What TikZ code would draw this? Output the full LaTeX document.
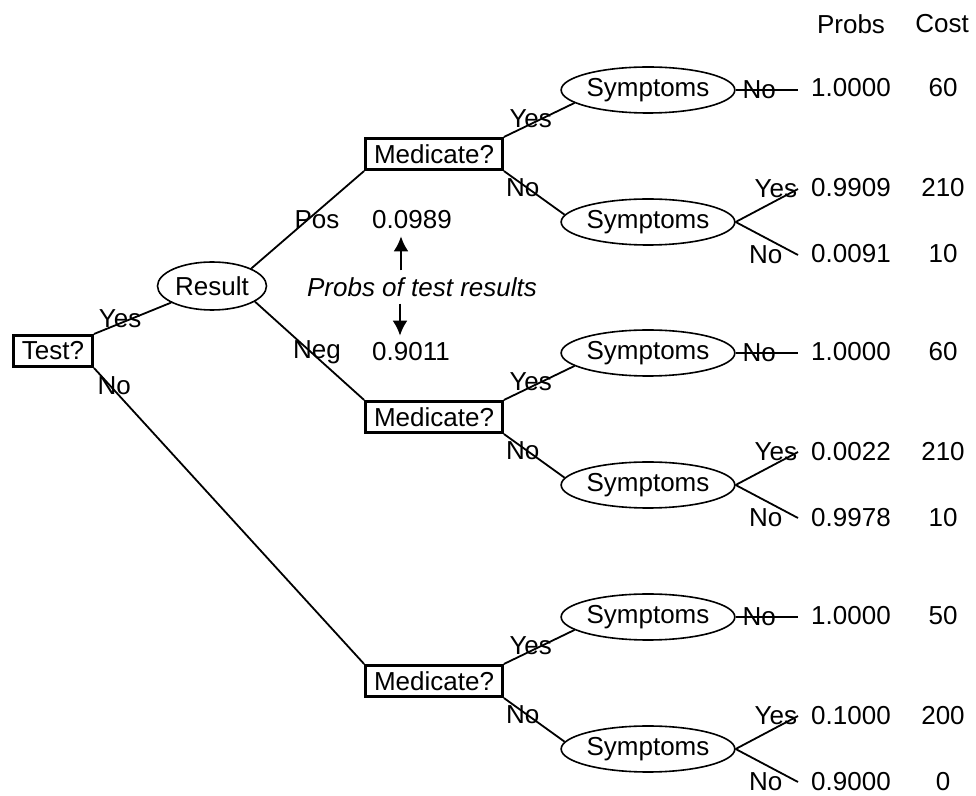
\documentclass[tikz,border=0pt]{standalone}
\usepackage{fontspec}
\setmainfont{Liberation Sans}
\usepackage{tikz}
\usetikzlibrary{shapes,arrows.meta}
\tikzset{>=Latex}

\begin{document}
\begin{tikzpicture}[
x=0.5pt, y=-0.5pt,
font=\fontsize{13}{16}\selectfont,
decisionnode/.style={rectangle, align=center, draw=black, line width=1.5pt, inner xsep=4.2pt, inner ysep=0pt, minimum height=15.5pt},
chancenode/.style={ellipse, draw=black, line width=.8pt, inner sep=0pt, minimum width=85pt, minimum height=23pt},
branch/.style={line width=.9pt},
probarrow/.style={-{Latex[length=7.5pt,width=7.5pt]}, line width=1.3pt},
]
\useasboundingbox (0,0) rectangle (976,796);

%Nodes
\node[decisionnode](Test) at (53,351){Test?};
\node[chancenode, minimum width=54.5pt, minimum height=24pt](Result) at (212,286){Result};

\node[decisionnode](Medicate Pos) at (434,154){Medicate?};
\node[chancenode](Symptoms Pos Yes) at (648,90){Symptoms};
\node[chancenode](Symptoms Pos No) at (648,222){Symptoms};

\node[decisionnode](Medicate Neg) at (434,417){Medicate?};
\node[chancenode](Symptoms Neg Yes) at (648,353){Symptoms};
\node[chancenode](Symptoms Neg No) at (648,485){Symptoms};

\node[decisionnode](Medicate Untested) at (434,681){Medicate?};
\node[chancenode](Symptoms Untested Yes) at (648,617){Symptoms};
\node[chancenode](Symptoms Untested No) at (648,749){Symptoms};

%Leaf ends
\coordinate (End Pos Yes) at (798,90);
\coordinate (End Pos No Yes) at (798,189);
\coordinate (End Pos No No) at (798,255);
\coordinate (End Neg Yes) at (798,353);
\coordinate (End Neg No Yes) at (798,452);
\coordinate (End Neg No No) at (798,518);
\coordinate (End Untested Yes) at (798,617);
\coordinate (End Untested No Yes) at (798,716);
\coordinate (End Untested No No) at (798,782);

%Test results
\node(Pos Label) at (317,220){Pos};
\node(Pos Prob) at (412,220){0.0989};
\node(Neg Label) at (317,352){Neg};
\node(Neg Prob) at (411,352){0.9011};
\node[font=\fontsize{13}{16}\selectfont\itshape](Test Probs) at (422,287){Probs of test results};

%Columns
\node(Probs Head) at (851,24){Probs};
\node(Cost Head) at (942,24){Cost};
\node at (851,88){1.0000};   \node at (943,88){60};
\node at (851,188){0.9909};  \node at (943,188){210};
\node at (851,254){0.0091};  \node at (943,254){10};
\node at (851,352){1.0000};  \node at (943,352){60};
\node at (851,452){0.0022};  \node at (943,452){210};
\node at (851,518){0.9978};  \node at (943,518){10};
\node at (851,616){1.0000};  \node at (943,616){50};
\node at (851,716){0.1000};  \node at (943,716){200};
\node at (851,782){0.9000};  \node at (943,782){0};

%Lines
\draw[branch] (Test.north east) -- node [pos=.34, yshift=2.5pt] {Yes} (Result);
\draw[branch] (Test.south east) -- node [pos=.075, yshift=2.5pt] {No} (Medicate Untested.north west);
\draw[branch] (Result.24) -- (Medicate Pos.south west);
\draw[branch] (Result.-20) -- (Medicate Neg.north west);

\draw[branch] (Medicate Pos.north east) -- node [pos=.38, yshift=2.5pt] {Yes} (Symptoms Pos Yes.190);
\draw[branch] (Medicate Pos.south east) -- node [pos=.31, yshift=-1.5pt] {No} (Symptoms Pos No.175);
\draw[branch] (Symptoms Pos Yes.east) -- node [pos=.38] {No} (End Pos Yes);
\draw[branch] (Symptoms Pos No.east) -- node [pos=1, anchor=east, inner sep=0pt] {Yes} (End Pos No Yes);
\draw[branch] (Symptoms Pos No.east) -- node [pos=1, anchor=east, xshift=-4pt] {No} (End Pos No No);

\draw[branch] (Medicate Neg.north east) -- node [pos=.38, yshift=2.5pt] {Yes} (Symptoms Neg Yes.190);
\draw[branch] (Medicate Neg.south east) -- node [pos=.31, yshift=-1.5pt] {No} (Symptoms Neg No.175);
\draw[branch] (Symptoms Neg Yes.east) -- node [pos=.38] {No} (End Neg Yes);
\draw[branch] (Symptoms Neg No.east) -- node [pos=1, anchor=east, inner sep=0pt] {Yes} (End Neg No Yes);
\draw[branch] (Symptoms Neg No.east) -- node [pos=1, anchor=east, xshift=-4pt] {No} (End Neg No No);

\draw[branch] (Medicate Untested.north east) -- node [pos=.38, yshift=2.5pt] {Yes} (Symptoms Untested Yes.190);
\draw[branch] (Medicate Untested.south east) -- node [pos=.31, yshift=-1.5pt] {No} (Symptoms Untested No.175);
\draw[branch] (Symptoms Untested Yes.east) -- node [pos=.38] {No} (End Untested Yes);
\draw[branch] (Symptoms Untested No.east) -- node [pos=1, anchor=east, inner sep=0pt] {Yes} (End Untested No Yes);
\draw[branch] (Symptoms Untested No.east) -- node [pos=1, anchor=east, xshift=-4pt] {No} (End Untested No No);

%Arrows
\draw[probarrow] ([xshift=-5.5pt]Pos Prob.south |- Test Probs.north) -- ([xshift=-5.5pt]Pos Prob.south);
\draw[probarrow] ([xshift=-5.5pt]Neg Prob.north |- Test Probs.south) -- ([xshift=-5.5pt]Neg Prob.north);
\end{tikzpicture}
\end{document}
